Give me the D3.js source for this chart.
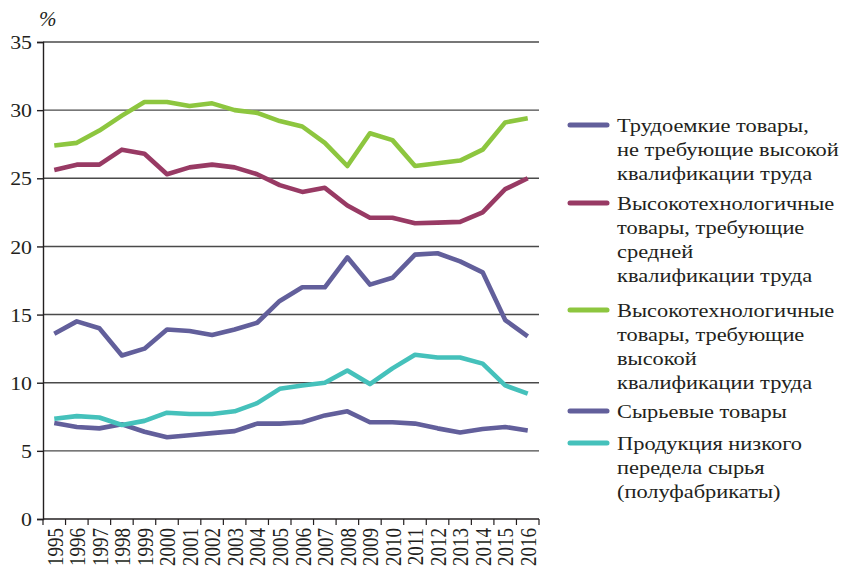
<!DOCTYPE html>
<html>
<head>
<meta charset="utf-8">
<script src="https://cdn.jsdelivr.net/npm/d3@7"></script>
<style>
  body { margin: 0; background: #fff; }
  text { font-family: "Liberation Serif", "DejaVu Serif", serif; fill: #231f20; }
</style>
</head>
<body>
<svg id="chart" width="843" height="572"></svg>
<script>
// Years on the x axis
const years = ["1995", "1996", "1997", "1998", "1999", "2000", "2001", "2002", "2003", "2004", "2005",
  "2006", "2007", "2008", "2009", "2010", "2011", "2012", "2013", "2014", "2015", "2016"];

// Series values, %
const laborIntensive = [13.6, 14.5, 14.0, 12.0, 12.5, 13.9, 13.8, 13.5, 13.9, 14.4, 16.0,
  17.0, 17.0, 19.2, 17.2, 17.7, 19.4, 19.5, 18.9, 18.1, 14.6, 13.4];
const hiTechMedium = [25.6, 26.0, 26.0, 27.1, 26.8, 25.3, 25.8, 26.0, 25.8, 25.3, 24.5,
  24.0, 24.3, 23.0, 22.1, 22.1, 21.7, 21.75, 21.8, 22.5, 24.2, 25.0];
const hiTechHigh = [27.4, 27.6, 28.5, 29.6, 30.6, 30.6, 30.3, 30.5, 30.0, 29.8, 29.2,
  28.8, 27.6, 25.9, 28.3, 27.8, 25.9, 26.1, 26.3, 27.1, 29.1, 29.4];
const rawMaterials = [7.05, 6.75, 6.65, 6.95, 6.4, 6.0, 6.15, 6.3, 6.45, 7.0, 7.0,
  7.1, 7.6, 7.9, 7.1, 7.1, 7.0, 6.65, 6.35, 6.6, 6.75, 6.5];
const semiProducts = [7.35, 7.55, 7.45, 6.9, 7.2, 7.8, 7.7, 7.7, 7.9, 8.5, 9.55,
  9.8, 10.0, 10.9, 9.9, 11.05, 12.05, 11.85, 11.85, 11.4, 9.8, 9.2];

const yTicks = [0, 5, 10, 15, 20, 25, 30, 35];

const seriesNames = [
  ["Трудоемкие товары,", "не требующие высокой", "квалификации труда"],
  ["Высокотехнологичные", "товары, требующие", "средней", "квалификации труда"],
  ["Высокотехнологичные", "товары, требующие", "высокой", "квалификации труда"],
  ["Сырьевые товары"],
  ["Продукция низкого", "передела сырья", "(полуфабрикаты)"]
];
const seriesValues = [laborIntensive, hiTechMedium, hiTechHigh, rawMaterials, semiProducts];
const seriesColors = ["#625f9b", "#983a64", "#8dc63f", "#625f9b", "#45c1bb"];

const svg = d3.select("#chart");
const plotLeft = 43, plotRight = 539, plotTop = 42, plotBottom = 519;
const stretch = 1.15; // glyphs in the picture are a bit wide

const x = d3.scaleBand().domain(years).range([plotLeft, plotRight]);
const y = d3.scaleLinear().domain([0, 35]).range([plotBottom, plotTop]);

// gridlines
svg.append("g")
  .selectAll("line")
  .data(yTicks.filter((d) => d > 0))
  .join("line")
  .attr("x1", plotLeft)
  .attr("x2", plotRight)
  .attr("y1", (d) => y(d))
  .attr("y2", (d) => y(d))
  .attr("stroke", "#4a4a4a")
  .attr("stroke-width", 1.4);

// y axis
const yAxis = svg.append("g")
  .attr("transform", `translate(${plotLeft},0)`)
  .call(d3.axisLeft(y).tickValues(yTicks).tickSize(6).tickFormat(d3.format("d")));
yAxis.select(".domain").attr("stroke", "#231f20").attr("stroke-width", 1.4);
yAxis.selectAll(".tick line").attr("stroke", "#231f20").attr("stroke-width", 1.4);
yAxis.selectAll(".tick text")
  .attr("font-size", 19)
  .attr("font-family", "Liberation Serif")
  .attr("x", 0)
  .attr("dy", "0.35em")
  .attr("text-anchor", "end")
  .attr("transform", `translate(-11,0) scale(${stretch},1)`);

// x axis with ticks on band edges
const xAxis = svg.append("g").attr("transform", `translate(0,${plotBottom})`);
xAxis.append("line")
  .attr("x1", plotLeft).attr("x2", plotRight)
  .attr("stroke", "#231f20").attr("stroke-width", 1.4);
xAxis.selectAll(".xt")
  .data(years.map((d) => x(d)).concat([plotRight]))
  .join("line")
  .attr("class", "xt")
  .attr("x1", (d) => d).attr("x2", (d) => d)
  .attr("y1", 0).attr("y2", 6)
  .attr("stroke", "#231f20").attr("stroke-width", 1.2);
xAxis.selectAll(".xl")
  .data(years)
  .join("text")
  .attr("class", "xl")
  .attr("font-size", 19)
  .attr("text-anchor", "end")
  .attr("dy", "0.35em")
  .attr("transform", (d) => `translate(${x(d) + x.bandwidth() / 2},9) scale(1.25,1) rotate(-90)`)
  .text((d) => d);

// "%" label
svg.append("text")
  .attr("x", 39).attr("y", 26)
  .attr("font-size", 21)
  .attr("font-style", "italic")
  .text("%");

// lines
const line = d3.line()
  .x((d, i) => x(years[i]) + x.bandwidth() / 2)
  .y((d) => y(d));

svg.append("g")
  .selectAll("path")
  .data(seriesValues)
  .join("path")
  .attr("d", line)
  .attr("fill", "none")
  .attr("stroke", (d, i) => seriesColors[i])
  .attr("stroke-width", 4.6)
  .attr("stroke-linejoin", "round");

// legend
const legendTops = [125, 203, 310, 411, 443];
const legend = svg.append("g");
seriesNames.forEach((lines, i) => {
  const g = legend.append("g").attr("transform", `translate(0,${legendTops[i]})`);
  g.append("line")
    .attr("x1", 570).attr("x2", 607)
    .attr("stroke", seriesColors[i])
    .attr("stroke-width", 5)
    .attr("stroke-linecap", "round");
  lines.forEach((t, k) => {
    g.append("text")
      .attr("font-size", 19.5)
      .attr("dy", "0.35em")
      .attr("transform", `translate(617,${k * 24}) scale(${stretch},1)`)
      .text(t);
  });
});
</script>
</body>
</html>
